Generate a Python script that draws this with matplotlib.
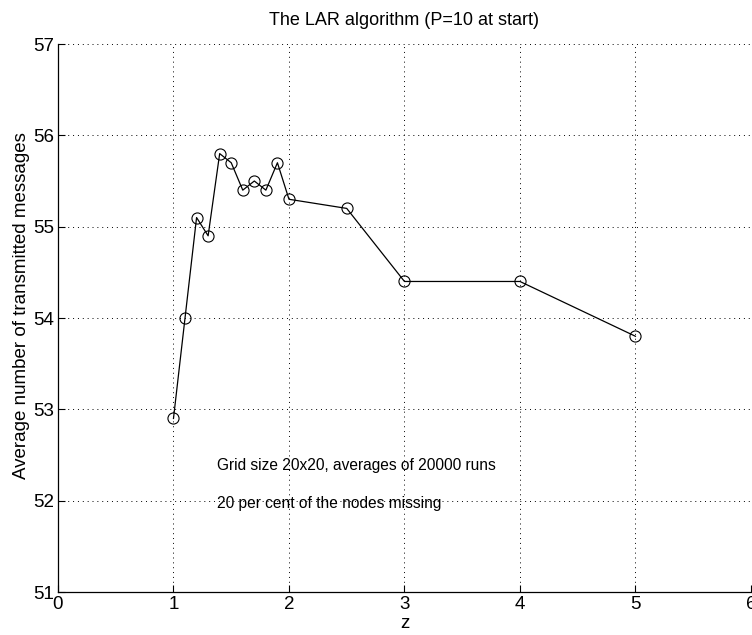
import matplotlib.pyplot as plt

z = [1.0, 1.1, 1.2, 1.3, 1.4, 1.5, 1.6, 1.7, 1.8, 1.9, 2.0, 2.5, 3.0, 4.0, 5.0]
avg_msgs = [52.9, 54.0, 55.1, 54.9, 55.8, 55.7, 55.4, 55.5, 55.4, 55.7, 55.3, 55.2, 54.4, 54.4, 53.8]
xticks = [0, 1, 2, 3, 4, 5, 6]
yticks = [51, 52, 53, 54, 55, 56, 57]

plt.rcParams['font.family'] = ['Liberation Sans', 'DejaVu Sans']

fig = plt.figure(figsize=(7.52, 6.35), dpi=100)
ax = fig.add_axes([0.0771, 0.0677, 0.9215, 0.863])

ax.plot(z, avg_msgs, '-o', color='black', lw=0.9, mfc='none', mec='black', ms=8, mew=0.8)

ax.set_xlim(0, 6)
ax.set_ylim(51, 57)
ax.set_xticks(xticks)
ax.set_yticks(yticks)
ax.grid(True, linestyle=(0, (1, 4)), color='black', lw=0.7)
ax.tick_params(direction='in', length=5, labelsize=13.5, width=0.8, pad=3)
for s in ['top', 'right']:
    ax.spines[s].set_visible(False)
for s in ['left', 'bottom']:
    ax.spines[s].set_linewidth(0.9)

ax.set_title('The LAR algorithm (P=10 at start)', fontsize=13, pad=14)
ax.set_xlabel('z', fontsize=13.5, labelpad=1)
ax.set_ylabel('Average number of transmitted messages', fontsize=13.5)
ax.yaxis.set_label_coords(-0.040, 0.522)

ax.text(1.38, 52.39, 'Grid size 20x20, averages of 20000 runs', fontsize=11.2, va='center')
ax.text(1.38, 51.97, '20 per cent of the nodes missing', fontsize=11.2, va='center')

fig.savefig('out.png', dpi=100)
